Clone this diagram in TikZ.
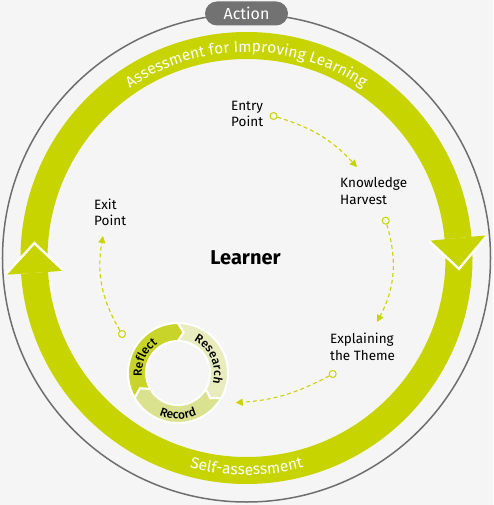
\documentclass[tikz,border=0pt]{standalone}
\usepackage{fontspec}
\setmainfont{Fira Sans}
\newfontfamily\medfont{Fira Sans Medium}
\usetikzlibrary{arrows.meta,decorations.text}
\definecolor{bg}{HTML}{F5F5F5}
\definecolor{ringgreen}{HTML}{C8D400}
\definecolor{reflectc}{HTML}{C8D42A}
\definecolor{researchc}{HTML}{E8ECBF}
\definecolor{recordc}{HTML}{DBE28F}
\definecolor{ringgray}{HTML}{6E6E6E}
\definecolor{pillgray}{HTML}{727272}
\definecolor{dashgreen}{HTML}{C8D400}
\begin{document}
\begin{tikzpicture}[x=1pt,y=1pt,
  lbl/.style={anchor=base west, inner sep=0, font=\fontsize{13.5}{16}\selectfont, text=black},
  startdot/.style={circle, draw=dashgreen, fill=bg, line width=1pt, minimum size=7pt, inner sep=0},
  conn/.style={draw=dashgreen, line width=1.1pt, dash pattern=on 4pt off 3pt, -{Triangle[length=7pt,width=7pt]}},
  seg/.style={draw=white, line width=2pt, line join=miter},
  whitechev/.style={draw=white, line width=5pt, line join=miter},
  ringtext/.style={decorate, decoration={text along path, text align=center, text color=white, text={|\fontsize{15.5}{18}\selectfont|#1}}},
  cyctext/.style={decorate, decoration={text along path, text align=center, text color=black, text={|\medfont\fontsize{12}{14}\selectfont|#1}}},
]
\fill[bg] (-246.5,-247) rectangle (246.5,258);
\useasboundingbox (-246.5,-247) rectangle (246.5,258);

% outer gray circle and Action pill
\draw[ringgray, line width=1.5pt] (0,0) circle (244);
\node[fill=pillgray, rounded corners=12pt, minimum width=83pt, minimum height=24pt, text=white, font=\fontsize{16}{19}\selectfont, inner sep=0] (action) at (0,244.5) {Action};

% main green ring: two arcs with arrowheads
\fill[ringgreen] (183:226) arc[start angle=183,end angle=5.4,radius=226] -- (5.4:199) arc[start angle=5.4,end angle=183,radius=199] -- cycle;
\fill[ringgreen] (3:226) arc[start angle=3,end angle=-176,radius=226] -- (-176:199) arc[start angle=-176,end angle=3,radius=199] -- cycle;
\path[whitechev] (5.4:240) -- (-2.4:212.5) -- (5.4:185);
\fill[ringgreen] (5.4:240) -- (-2.4:212.5) -- (5.4:185) -- cycle;
\path[whitechev] (184:240) -- (176.5:212.5) -- (184:185);
\fill[ringgreen] (184:240) -- (176.5:212.5) -- (184:185) -- cycle;

\path[ringtext={Assessment for Improving Learning}] (150:206) arc[start angle=150,end angle=30,radius=206];
\path[ringtext={Self-assessment}] (240:217) arc[start angle=240,end angle=300,radius=217];

% small cycle
\begin{scope}[shift={(-68.5,-115)}]
\path[seg, fill=reflectc] (210:50) arc[start angle=210,end angle=90,radius=50] -- (82:41) -- (90:32) arc[start angle=90,end angle=210,radius=32] -- (202:41) -- cycle;
\path[seg, fill=researchc] (90:50) arc[start angle=90,end angle=-30,radius=50] -- (-38:41) -- (-30:32) arc[start angle=-30,end angle=90,radius=32] -- (82:41) -- cycle;
\path[seg, fill=recordc] (-30:50) arc[start angle=-30,end angle=-150,radius=50] -- (-158:41) -- (-150:32) arc[start angle=-150,end angle=-30,radius=32] -- (-38:41) -- cycle;
\path[cyctext={Reflect}] (205:36) arc[start angle=205,end angle=105,radius=36];
\path[cyctext={Research}] (75:36) arc[start angle=75,end angle=-27,radius=36];
\path[cyctext={Record}] (230:46) arc[start angle=230,end angle=310,radius=46];
\end{scope}

% centre
\node[font=\bfseries\fontsize{20}{24}\selectfont, anchor=base, inner sep=0] (learner) at (-1,-7) {Learner};

% labels
\node[lbl] (entry1) at (-15.5,147) {Entry};
\node[lbl] (entry2) at (-15.5,131) {Point};
\node[lbl] (kh1) at (93.5,70) {Knowledge};
\node[lbl] (kh2) at (93.5,53.5) {Harvest};
\node[lbl] (et1) at (83.5,-85.3) {Explaining};
\node[lbl] (et2) at (83.5,-102) {the Theme};
\node[lbl] (ex1) at (-152.5,48) {Exit};
\node[lbl] (ex2) at (-152.5,32) {Point};

% dashed connectors
\node[startdot] (d1) at (27,142) {};
\coordinate (a1) at (110.5,91);
\draw[conn] (d1) to[bend left=15] (a1);
\node[startdot] (d2) at (139.2,37.3) {};
\coordinate (a2) at (130.5,-64);
\draw[conn] (d2) to[bend left=22] (a2);
\node[startdot] (d3) at (86.2,-116) {};
\coordinate (a3) at (-10.8,-144.7);
\draw[conn] (d3) to[bend left=12] (a3);
\node[startdot] (d4) at (-124.5,-76) {};
\coordinate (a4) at (-143.5,22);
\draw[conn] (d4) to[bend left=20] (a4);
\end{tikzpicture}
\end{document}
